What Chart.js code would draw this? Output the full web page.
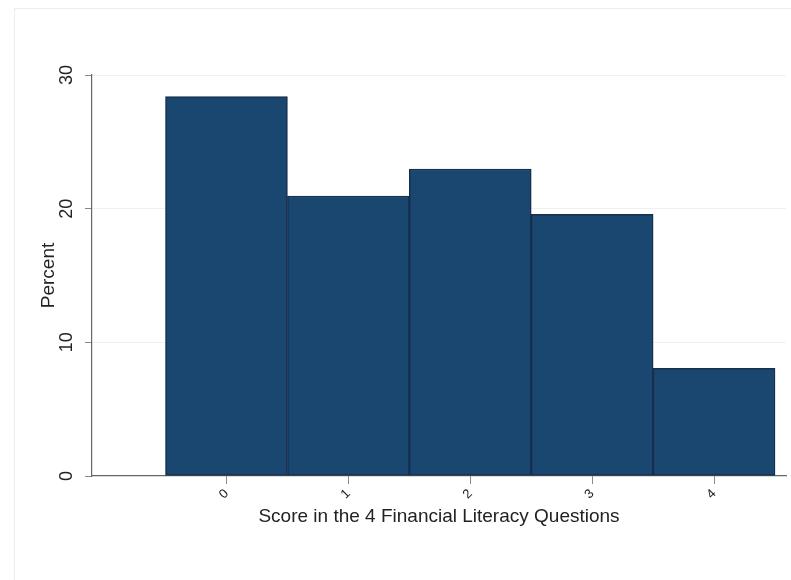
<!DOCTYPE html>
<html>
<head>
<meta charset="utf-8">
<script src="https://cdn.jsdelivr.net/npm/chart.js@4"></script>
<style>
  html, body { margin: 0; padding: 0; background: #fff; }
  #wrap { width: 791px; height: 580px; }
</style>
</head>
<body>
<div id="wrap"><canvas id="chart" width="791" height="580"></canvas></div>
<script>
// histogram data
const scores = [0, 1, 2, 3, 4];
const percents = [28.38, 20.95, 22.97, 19.58, 8.06];
const yTicks = [0, 10, 20, 30];

const FONT = "'Liberation Sans', Arial, sans-serif";

const frame = {
    id: "frame",
    beforeDraw(chart) {
        const ctx = chart.ctx;
        ctx.save();
        ctx.fillStyle = "#fff";
        ctx.fillRect(0, 0, chart.width, chart.height);
        ctx.strokeStyle = "#ececec";
        ctx.lineWidth = 1;
        ctx.strokeRect(14.5, 8.5, chart.width, chart.height);
        ctx.restore();
    },
};

new Chart(document.getElementById("chart"), {
    type: "bar",
    data: {
        datasets: [
            {
                data: scores.map((s, i) => ({ x: s, y: percents[i] })),
                backgroundColor: "#1a476f",
                borderColor: "#172f4c",
                borderWidth: 1.5,
                borderSkipped: false,
                barPercentage: 1,
                categoryPercentage: 1,
            },
        ],
    },
    options: {
        responsive: false,
        animation: false,
        layout: { padding: { top: 75, left: 0, right: 5, bottom: 0 } },
        plugins: { legend: { display: false }, tooltip: { enabled: false } },
        scales: {
            x: {
                type: "linear",
                offset: false,
                min: -1.103,
                max: 4.59,
                afterBuildTicks: (scale) => {
                    scale.ticks = scores.map((v) => ({ value: v }));
                },
                afterFit: (scale) => {
                    scale.height = 104;
                },
                border: { color: "#666", width: 1.2 },
                grid: {
                    offset: false,
                    drawOnChartArea: false,
                    tickLength: 8,
                    tickColor: "#888",
                },
                ticks: {
                    minRotation: 45,
                    maxRotation: 45,
                    padding: 2,
                    color: "#222",
                    font: { family: FONT, size: 13 },
                    callback: (v) => String(v),
                },
                title: {
                    display: true,
                    text: "Score in the 4 Financial Literacy Questions",
                    color: "#222",
                    font: { family: FONT, size: 19 },
                    padding: { top: 52, bottom: 52 },
                },
            },
            y: {
                min: 0,
                max: 30,
                afterBuildTicks: (scale) => {
                    scale.ticks = yTicks.map((v) => ({ value: v }));
                },
                afterFit: (scale) => {
                    scale.width = 92;
                },
                border: { color: "#666", width: 1.2 },
                grid: {
                    color: (c) => (c.tick && c.tick.value === 0 ? "rgba(0,0,0,0)" : "#f0f0f0"),
                    tickLength: 7,
                    tickColor: "#888",
                },
                ticks: {
                    minRotation: 90,
                    maxRotation: 90,
                    crossAlign: "center",
                    padding: 8,
                    color: "#222",
                    font: { family: FONT, size: 18 },
                },
                title: {
                    display: true,
                    text: "Percent",
                    color: "#222",
                    font: { family: FONT, size: 19 },
                    padding: { top: 37, bottom: 37 },
                },
            },
        },
    },
    plugins: [frame],
});
</script>
</body>
</html>
